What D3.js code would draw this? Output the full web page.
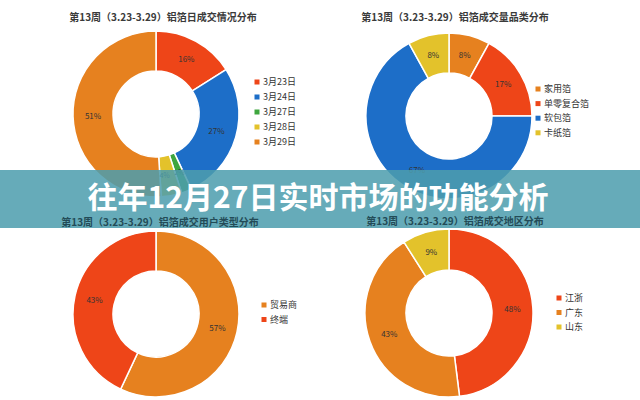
<!DOCTYPE html>
<html><head><meta charset="utf-8">
<script src="https://cdn.jsdelivr.net/npm/d3@7/dist/d3.min.js"></script>
<style>
html,body{margin:0;padding:0;background:#fff;}
svg{display:block;}
</style></head>
<body>
<svg id="c" width="640" height="400"></svg>
<script>
// ---- data ----
const mainTitle = "往年12月27日实时市场的功能分析";

const chart1Title = "第13周（3.23-3.29）铝箔日成交情况分布";
const chart1Labels = ["3月23日", "3月24日", "3月27日", "3月28日", "3月29日"];
const chart1Values = [16, 27, 2, 4, 51];

const chart2Title = "第13周（3.23-3.29）铝箔成交量品类分布";
const chart2Labels = ["家用箔", "单零复合箔", "软包箔", "卡纸箔"];
const chart2Values = [8, 17, 67, 8];

const chart3Title = "第13周（3.23-3.29）铝箔成交用户类型分布";
const chart3Labels = ["贸易商", "终端"];
const chart3Values = [57, 43];

const chart4Title = "第13周（3.23-3.29）铝箔成交地区分布";
const chart4Labels = ["江浙", "广东", "山东"];
const chart4Values = [48, 43, 9];

// ---- styles ----
const C = {red:"#EE4518", blue:"#1D6EC8", green:"#3EA63E", yellow:"#E3C22B", orange:"#E6811F"};
const FONT = "'Noto Sans CJK SC','Noto Sans',sans-serif";

const svg = d3.select("#c");
const under = svg.append("g");
const band = svg.append("g");
const over = svg.append("g");

const charts = [
  {title: chart1Title, labels: chart1Labels, values: chart1Values,
   colors: [C.red, C.blue, C.green, C.yellow, C.orange],
   cx: 156, cy: 114, r: 83, ir: 43, tx: 163, ty: 21, lx: 257, ly: 82, ls: 15, top: true},
  {title: chart2Title, labels: chart2Labels, values: chart2Values,
   colors: [C.orange, C.red, C.blue, C.yellow],
   cx: 449, cy: 116, r: 83, ir: 43, tx: 455, ty: 21, lx: 538, ly: 89, ls: 14.6, top: true},
  {title: chart3Title, labels: chart3Labels, values: chart3Values,
   colors: [C.orange, C.red],
   cx: 156, cy: 314, r: 83, ir: 43, tx: 160, ty: 226, lx: 264, ly: 305, ls: 14.5, top: false},
  {title: chart4Title, labels: chart4Labels, values: chart4Values,
   colors: [C.red, C.orange, C.yellow],
   cx: 449, cy: 313, r: 84, ir: 43, tx: 455, ty: 225, lx: 559, ly: 298, ls: 14.5, top: false}
];

const pie = d3.pie().sort(null).value(d => d);

charts.forEach(ch => {
  (ch.top ? under : over).append("text")
    .attr("x", ch.tx).attr("y", ch.ty)
    .attr("text-anchor", "middle")
    .attr("font-family", FONT).attr("font-size", 10).attr("font-weight", "bold")
    .attr("fill", ch.top ? "#3a3a3a" : "#234b57")
    .text(ch.title);

  const color = d3.scaleOrdinal().domain(ch.labels).range(ch.colors);
  const arc = d3.arc().innerRadius(ch.ir).outerRadius(ch.r);
  const labelArc = d3.arc().innerRadius((ch.ir + ch.r) / 2).outerRadius((ch.ir + ch.r) / 2);
  const g = under.append("g").attr("transform", `translate(${ch.cx},${ch.cy})`);
  const arcs = pie(ch.values);
  g.selectAll("path").data(arcs).enter().append("path")
    .attr("d", arc)
    .attr("fill", (d, i) => color(ch.labels[i]))
    .attr("stroke", "#fff").attr("stroke-width", 1.5);
  // small neighbouring slices: split labels to either side of their shared edge
  const side = (d, i) => {
    if (d.data >= 5) return 0;
    if (i < arcs.length - 1 && arcs[i + 1].data < 5) return 1;   // label goes right
    if (i > 0 && arcs[i - 1].data < 5) return -1;                // label goes left
    return 0;
  };
  g.selectAll("text").data(arcs).enter().append("text")
    .attr("transform", d => `translate(${labelArc.centroid(d)})`)
    .attr("text-anchor", (d, i) => ["end", "middle", "start"][side(d, i) + 1])
    .attr("dx", (d, i) => [2, 0, -5][side(d, i) + 1])
    .attr("dy", "0.35em")
    .attr("font-family", FONT).attr("font-size", d => d.data < 5 ? 7 : 8)
    .attr("fill", "#333")
    .text(d => d.data + "%");

  const lg = under.append("g");
  ch.labels.forEach((lab, i) => {
    const y = ch.ly + i * ch.ls;
    lg.append("rect").attr("x", ch.lx - 2.5).attr("y", y - 2.5)
      .attr("width", 5).attr("height", 5).attr("fill", color(lab));
    lg.append("text").attr("x", ch.lx + 6).attr("y", y).attr("dy", "0.35em")
      .attr("font-family", FONT).attr("font-size", 9).attr("fill", "#333")
      .text(lab);
  });
});

// overlay band
band.append("rect").attr("x", 0).attr("y", 170).attr("width", 640).attr("height", 58)
  .attr("fill", "#4D9DAE").attr("fill-opacity", 0.86);
over.append("text").attr("x", 318).attr("y", 208)
  .attr("text-anchor", "middle")
  .attr("font-family", FONT).attr("font-size", 30).attr("font-weight", "bold")
  .attr("fill", "#fff")
  .text(mainTitle);
</script>
</body></html>
